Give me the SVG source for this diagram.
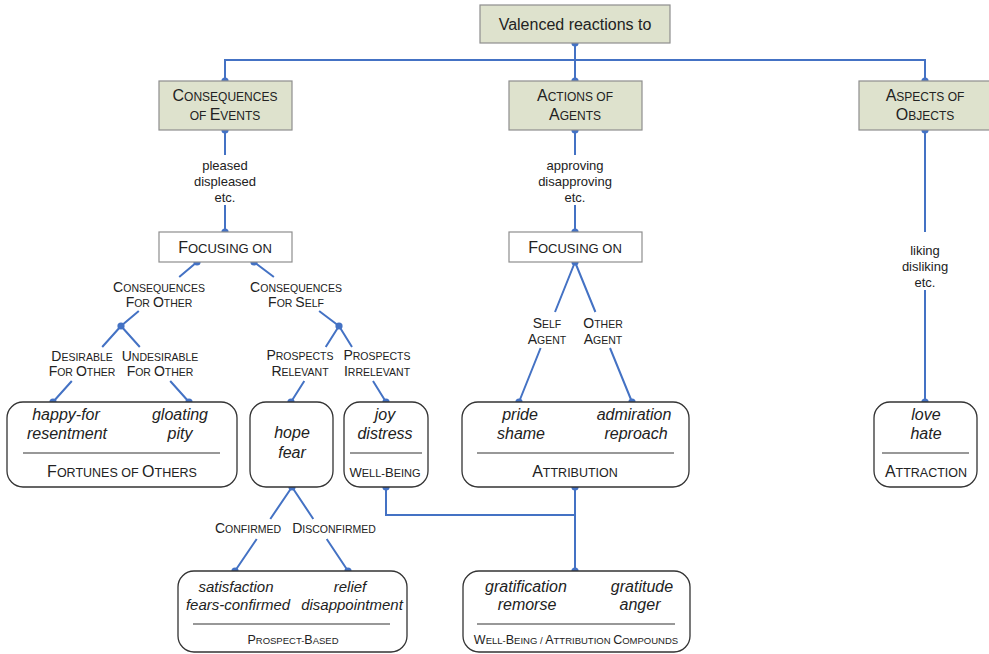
<svg xmlns="http://www.w3.org/2000/svg" width="989" height="654" viewBox="0 0 989 654">
  <style>
    text { font-family: "Liberation Sans", Arial, sans-serif; fill: #222; text-anchor: middle; }
    .c { stroke: #4472c4; stroke-width: 2; fill: none; }
    .d { fill: #4472c4; }
    .g { fill: #dee2cd; stroke: #8e8e8e; stroke-width: 1.2; }
    .f { fill: #ffffff; stroke: #8e8e8e; stroke-width: 1.2; }
    .r { fill: #ffffff; stroke: #333333; stroke-width: 1.3; }
    .sep { stroke: #333333; stroke-width: 1.2; }
    .t16 { font-size: 16px; }
    .t14 { font-size: 14px; }
    .t13 { font-size: 13px; }
    .t125 { font-size: 12.5px; }
    .s13 { font-size: 13px; }
    .s125 { font-size: 12.5px; }
    .s12 { font-size: 12px; }
    .s11 { font-size: 11px; }
    .s105 { font-size: 10.5px; }
    .s95 { font-size: 9.5px; }
    .lbl { font-size: 13px; }
    .i { font-style: italic; font-size: 16px; }
    .i15 { font-style: italic; font-size: 15px; }
  </style>

  <!-- connectors -->
  <g id="connectors">
    <path class="c" d="M575 43 V81"/>
    <path class="c" d="M225 81 V60 H925 V81"/>
    <path class="c" d="M225 130 V155 M225 205 V232"/>
    <path class="c" d="M575 130 V155 M575 205 V232"/>
    <path class="c" d="M925 130 V232 M925 290 V402"/>
    <!-- events branch -->
    <path class="c" d="M197 262 L179.2 277 M138.8 311 L121 326"/>
    <path class="c" d="M254 262 L273.9 277 M319.1 311 L339 326"/>
    <path class="c" d="M121 326 L102.2 347 M71.8 381 L53 402"/>
    <path class="c" d="M121 326 L139.8 347 M170.2 381 L189 402"/>
    <path class="c" d="M339 326 L325.7 347 M304.3 381 L291 402"/>
    <path class="c" d="M339 326 L352 347 M373 381 L386 402"/>
    <!-- agents branch -->
    <path class="c" d="M575 262 L555 312 M540.6 348 L519 402"/>
    <path class="c" d="M575 262 L595.4 312 M610 348 L632 402"/>
    <!-- prospect outcomes -->
    <path class="c" d="M292 487 L270.3 519 M256.7 539 L235 571"/>
    <path class="c" d="M292 487 L313.3 519 M326.7 539 L348 571"/>
    <!-- compounds -->
    <path class="c" d="M386 487 V515 H575"/>
    <path class="c" d="M575 487 V571"/>
    <!-- junction dots -->
    <g class="d">
      <circle cx="575" cy="43" r="3.6"/>
      <circle cx="225" cy="81" r="3.6"/>
      <circle cx="575" cy="81" r="3.6"/>
      <circle cx="925" cy="81" r="3.6"/>
      <circle cx="225" cy="130" r="3.6"/>
      <circle cx="575" cy="130" r="3.6"/>
      <circle cx="925" cy="130" r="3.6"/>
      <circle cx="225" cy="232" r="3.6"/>
      <circle cx="575" cy="232" r="3.6"/>
      <circle cx="197" cy="262" r="3.6"/>
      <circle cx="254" cy="262" r="3.6"/>
      <circle cx="575" cy="262" r="3.6"/>
      <circle cx="121" cy="326" r="3.6"/>
      <circle cx="339" cy="326" r="3.6"/>
      <circle cx="53" cy="402" r="3.6"/>
      <circle cx="189" cy="402" r="3.6"/>
      <circle cx="291" cy="402" r="3.6"/>
      <circle cx="386" cy="402" r="3.6"/>
      <circle cx="519" cy="402" r="3.6"/>
      <circle cx="632" cy="402" r="3.6"/>
      <circle cx="925" cy="402" r="3.6"/>
      <circle cx="292" cy="487" r="3.6"/>
      <circle cx="386" cy="487" r="3.6"/>
      <circle cx="575" cy="487" r="3.6"/>
      <circle cx="235" cy="571" r="3.6"/>
      <circle cx="348" cy="571" r="3.6"/>
      <circle cx="575" cy="571" r="3.6"/>
    </g>
    <!-- connector labels -->
    <text class="lbl" x="225" y="170">pleased</text>
    <text class="lbl" x="225" y="186">displeased</text>
    <text class="lbl" x="225" y="202">etc.</text>
    <text class="lbl" x="575" y="170">approving</text>
    <text class="lbl" x="575" y="186">disapproving</text>
    <text class="lbl" x="575" y="202">etc.</text>
    <text class="lbl" x="925" y="255">liking</text>
    <text class="lbl" x="925" y="271">disliking</text>
    <text class="lbl" x="925" y="287">etc.</text>

    <text class="t14" x="159" y="292">C<tspan class="s105">ONSEQUENCES</tspan></text>
    <text class="t14" x="159" y="307">F<tspan class="s105">OR </tspan>O<tspan class="s105">THER</tspan></text>
    <text class="t14" x="296" y="292">C<tspan class="s105">ONSEQUENCES</tspan></text>
    <text class="t14" x="296" y="307">F<tspan class="s105">OR </tspan>S<tspan class="s105">ELF</tspan></text>
    <text class="t14" x="82" y="361">D<tspan class="s105">ESIRABLE</tspan></text>
    <text class="t14" x="82" y="376">F<tspan class="s105">OR </tspan>O<tspan class="s105">THER</tspan></text>
    <text class="t14" x="160" y="361">U<tspan class="s105">NDESIRABLE</tspan></text>
    <text class="t14" x="160" y="376">F<tspan class="s105">OR </tspan>O<tspan class="s105">THER</tspan></text>
    <text class="t14" x="300" y="360">P<tspan class="s105">ROSPECTS</tspan></text>
    <text class="t14" x="300" y="376">R<tspan class="s105">ELEVANT</tspan></text>
    <text class="t14" x="377" y="360">P<tspan class="s105">ROSPECTS</tspan></text>
    <text class="t14" x="377" y="376">I<tspan class="s105">RRELEVANT</tspan></text>
    <text class="t14" x="547" y="328">S<tspan class="s105">ELF</tspan></text>
    <text class="t14" x="547" y="344">A<tspan class="s105">GENT</tspan></text>
    <text class="t14" x="603" y="328">O<tspan class="s105">THER</tspan></text>
    <text class="t14" x="603" y="344">A<tspan class="s105">GENT</tspan></text>
    <text class="t14" x="248" y="533">C<tspan class="s105">ONFIRMED</tspan></text>
    <text class="t14" x="334" y="533">D<tspan class="s105">ISCONFIRMED</tspan></text>
  </g>

  <!-- root -->
  <g id="valenced-reactions">
    <rect class="g" x="480" y="5" width="190" height="38"/>
    <text class="t16" x="575" y="29.5">Valenced reactions to</text>
  </g>

  <g id="consequences-of-events">
    <rect class="g" x="159" y="81" width="133" height="49"/>
    <text class="t16" x="225" y="101">C<tspan class="s12">ONSEQUENCES</tspan></text>
    <text class="t16" x="225" y="120"><tspan class="s12">OF </tspan>E<tspan class="s12">VENTS</tspan></text>
  </g>

  <g id="actions-of-agents">
    <rect class="g" x="509" y="81" width="133" height="49"/>
    <text class="t16" x="575" y="101">A<tspan class="s12">CTIONS OF</tspan></text>
    <text class="t16" x="575" y="120">A<tspan class="s12">GENTS</tspan></text>
  </g>

  <g id="aspects-of-objects">
    <rect class="g" x="859" y="81" width="133" height="49"/>
    <text class="t16" x="925" y="101">A<tspan class="s12">SPECTS OF</tspan></text>
    <text class="t16" x="925" y="120">O<tspan class="s12">BJECTS</tspan></text>
  </g>

  <g id="focusing-events">
    <rect class="f" x="159" y="232" width="133" height="30"/>
    <text class="t16" x="225" y="252.5">F<tspan class="s13">OCUSING ON</tspan></text>
  </g>

  <g id="focusing-agents">
    <rect class="f" x="509" y="232" width="133" height="30"/>
    <text class="t16" x="575" y="252.5">F<tspan class="s13">OCUSING ON</tspan></text>
  </g>

  <g id="fortunes-of-others">
    <rect class="r" x="7" y="402" width="230" height="85" rx="16"/>
    <text class="i" x="66" y="420">happy-for</text>
    <text class="i" x="67" y="439">resentment</text>
    <text class="i" x="180" y="420">gloating</text>
    <text class="i" x="180" y="439">pity</text>
    <line class="sep" x1="23" y1="453" x2="220" y2="453"/>
    <text class="t16" x="122" y="477">F<tspan class="s125">ORTUNES OF </tspan>O<tspan class="s125">THERS</tspan></text>
  </g>

  <g id="hope-fear">
    <rect class="r" x="250" y="402" width="83" height="85" rx="16"/>
    <text class="i" x="292" y="438">hope</text>
    <text class="i" x="292" y="458">fear</text>
  </g>

  <g id="well-being">
    <rect class="r" x="344" y="402" width="84" height="85" rx="16"/>
    <text class="i" x="385" y="420">joy</text>
    <text class="i" x="385" y="439">distress</text>
    <line class="sep" x1="350" y1="453" x2="422" y2="453"/>
    <text class="t13" x="385" y="477">W<tspan class="s11">ELL-</tspan>B<tspan class="s11">EING</tspan></text>
  </g>

  <g id="attribution">
    <rect class="r" x="462" y="402" width="227" height="85" rx="16"/>
    <text class="i" x="520" y="420">pride</text>
    <text class="i" x="521" y="439">shame</text>
    <text class="i" x="634" y="420">admiration</text>
    <text class="i" x="636" y="439">reproach</text>
    <line class="sep" x1="477" y1="453" x2="674" y2="453"/>
    <text class="t16" x="575" y="477">A<tspan class="s125">TTRIBUTION</tspan></text>
  </g>

  <g id="attraction">
    <rect class="r" x="874" y="402" width="103" height="85" rx="16"/>
    <text class="i" x="926" y="420">love</text>
    <text class="i" x="926" y="439">hate</text>
    <line class="sep" x1="882" y1="453" x2="969" y2="453"/>
    <text class="t16" x="926" y="477">A<tspan class="s125">TTRACTION</tspan></text>
  </g>

  <g id="prospect-based">
    <rect class="r" x="178" y="571" width="229" height="81" rx="16"/>
    <text class="i15" x="236" y="592">satisfaction</text>
    <text class="i15" x="238" y="610">fears-confirmed</text>
    <text class="i15" x="350" y="592">relief</text>
    <text class="i15" x="352" y="610">disappointment</text>
    <line class="sep" x1="193" y1="624" x2="390" y2="624"/>
    <text class="t125" x="293" y="644">P<tspan class="s95">ROSPECT-</tspan>B<tspan class="s95">ASED</tspan></text>
  </g>

  <g id="compounds">
    <rect class="r" x="463" y="571" width="227" height="81" rx="16"/>
    <text class="i" x="526" y="592">gratification</text>
    <text class="i" x="527" y="610">remorse</text>
    <text class="i" x="642" y="592">gratitude</text>
    <text class="i" x="640" y="610">anger</text>
    <line class="sep" x1="477" y1="624" x2="675" y2="624"/>
    <text class="t125" x="576" y="644">W<tspan class="s95">ELL-</tspan>B<tspan class="s95">EING / </tspan>A<tspan class="s95">TTRIBUTION </tspan>C<tspan class="s95">OMPOUNDS</tspan></text>
  </g>
</svg>
